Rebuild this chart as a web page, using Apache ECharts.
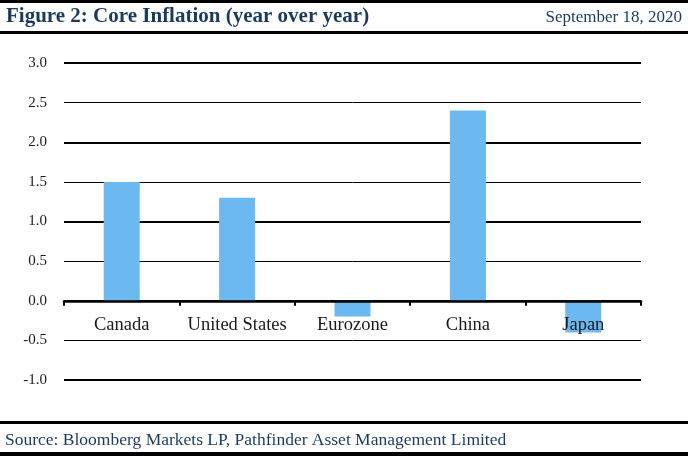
<!DOCTYPE html>
<html><head><meta charset="utf-8">
<script src="https://cdn.jsdelivr.net/npm/echarts@6/dist/echarts.min.js"></script>
<style>html,body{margin:0;padding:0;background:#fff}#c{width:688px;height:456px}</style>
</head><body><div id="c"></div>
<script>
var categories = ["Canada", "United States", "Eurozone", "China", "Japan"];
var values = [1.5, 1.3, -0.2, 2.4, -0.4];
var titleText = "Figure 2: Core Inflation (year over year)";
var dateText = "September 18, 2020";
var sourceText = "Source: Bloomberg Markets LP, Pathfinder Asset Management Limited";
var navy = "#1b3a5e";
var serif = "'Liberation Serif', 'DejaVu Serif', serif";
var yMin = -1, yMax = 3;
var chart = echarts.init(document.getElementById('c'), null, {renderer: 'canvas'});
chart.setOption({
  animation: false,
  backgroundColor: '#fff',
  grid: {left: 64, right: 47, top: 63, bottom: 76},
  xAxis: {
    type: 'category', data: categories, offset: 0,
    axisLine: {onZero: false, lineStyle: {color: '#000', width: 2.5}},
    axisTick: {show: true, length: 5, lineStyle: {color: '#000', width: 2}},
    axisLabel: {color: '#1a1a1a', fontFamily: serif, fontSize: 18.5, margin: 15, interval: 0},
    z: 5
  },
  yAxis: [{
    type: 'value', min: yMin, max: yMax, interval: 0.5,
    axisLine: {show: false}, axisTick: {show: false},
    axisLabel: {color: '#1a1a1a', fontFamily: serif, fontSize: 15, margin: 17,
      formatter: function (v) { return v.toFixed(1); }},
    splitLine: {lineStyle: {color: '#000', width: 1}}
  }, {
    type: 'value', min: yMin, max: yMax, interval: 1, position: 'left',
    axisLine: {show: false}, axisTick: {show: false}, axisLabel: {show: false},
    splitLine: {lineStyle: {color: '#000', width: 2}}
  }],
  series: [{
    type: 'bar', data: values, barWidth: 36, z: 3,
    itemStyle: {color: '#6cb8f0'}
  }],
  graphic: [
    {type: 'rect', shape: {x: 0, y: 0, width: 688, height: 3}, style: {fill: '#000'}},
    {type: 'rect', shape: {x: 0, y: 31, width: 688, height: 3}, style: {fill: '#000'}},
    {type: 'rect', shape: {x: 0, y: 421, width: 688, height: 3}, style: {fill: '#000'}},
    {type: 'rect', shape: {x: 0, y: 452, width: 688, height: 4}, style: {fill: '#000'}},
    {type: 'text', left: 6, top: 6, style: {text: titleText, fill: navy, font: "bold 21px " + serif}},
    {type: 'text', right: 6, top: 9, style: {text: dateText, fill: navy, font: "17px " + serif}},
    {type: 'text', left: 5, top: 431, style: {text: sourceText, fill: navy, font: "17.5px " + serif}}
  ]
});
var pZero = chart.convertToPixel({yAxisIndex: 0}, 0);
var pMin = chart.convertToPixel({yAxisIndex: 0}, yMin);
chart.setOption({xAxis: {offset: -(pMin - pZero)}});
</script></body></html>
